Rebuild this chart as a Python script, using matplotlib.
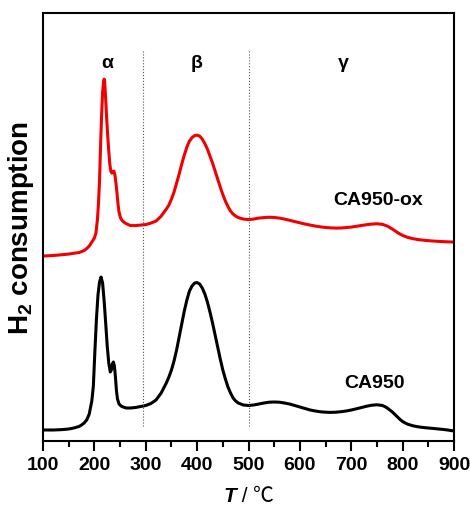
import matplotlib.pyplot as plt
from matplotlib.ticker import MultipleLocator
from matplotlib.offsetbox import TextArea, HPacker, AnchoredOffsetbox

plt.rcParams['font.family'] = ['Liberation Sans', 'Noto Sans CJK SC', 'DejaVu Sans']
plt.rcParams['font.weight'] = 'bold'
plt.rcParams['mathtext.fontset'] = 'custom'
plt.rcParams['mathtext.bf'] = 'Liberation Sans:bold'
plt.rcParams['mathtext.rm'] = 'Liberation Sans:bold'

# CA950 (black), temperature in C / signal in a.u.
t_ca950 = [100, 110, 120, 130, 140, 150, 160, 170, 175, 180, 185, 190, 195, 198, 201, 204, 207,
           210, 213, 216, 219, 222, 225, 228, 231, 233, 235, 237, 239, 241, 243, 245, 248, 252,
           256, 262, 270, 280, 290, 300, 310, 320, 330, 340, 345, 350, 355, 360, 365, 370, 375, 380,
           385, 390, 395, 400, 405, 410, 415, 420, 425, 430, 435, 440, 445, 450, 455, 460, 465,
           470, 475, 480, 490, 500, 510, 520, 530, 540, 550, 560, 570, 580, 590, 600, 610, 620,
           630, 640, 650, 660, 670, 680, 690, 700, 710, 720, 730, 740, 750, 760, 765, 770, 775,
           780, 785, 790, 795, 800, 805, 810, 820, 830, 840, 850, 860, 870, 880, 890, 900]
h2_ca950 = [11, 11, 11, 11.2, 11.5, 12, 13, 14.5, 16, 18, 21, 27, 40, 55, 90, 122, 146,
            159, 164, 158, 140, 118, 95, 78, 69, 71, 77, 79, 75, 64, 50, 42, 37, 35,
            34, 33, 33, 33.5, 34.5, 35.5, 37.5, 41, 48, 58, 64, 71, 80, 91, 104, 117, 130, 141,
            150, 155, 158, 158.5, 157, 153, 147, 139, 129, 118, 106, 94, 82, 71, 62, 54, 48,
            43, 40, 38, 36, 35.5, 36, 37, 38, 38.8, 39, 38.8, 38, 37, 35.5, 34, 32.5, 31,
            30, 29.2, 28.8, 28.6, 28.8, 29.3, 30, 31, 32.2, 33.5, 34.8, 35.8, 36.2, 35.6, 34.5, 33, 31,
            29, 26.5, 24, 21.5, 19.5, 18, 16.8, 15.2, 14.2, 13.5, 13, 12.5, 12, 11.5, 10.8, 10]

# CA950-ox (red)
t_ox = [100, 110, 120, 130, 140, 150, 160, 170, 175, 180, 185, 190, 195, 200, 203, 206, 208,
        210, 212, 214, 216, 218, 219, 220, 222, 224, 226, 228, 230, 232, 234, 236, 238, 240,
        242, 244, 246, 248, 251, 255, 260, 270, 280, 290, 300, 310, 320, 330, 340, 345, 350,
        355, 360, 365, 370, 375, 380, 385, 390, 395, 400, 405, 410, 415, 420, 425, 430, 435,
        440, 445, 450, 455, 460, 465, 470, 475, 480, 490, 500, 510, 520, 530, 540, 550, 560,
        570, 580, 590, 600, 610, 620, 630, 640, 650, 660, 670, 680, 690, 700, 710, 720, 730,
        740, 750, 760, 765, 770, 775, 780, 785, 790, 795, 800, 805, 810, 820, 830, 840, 850,
        860, 870, 880, 890, 900]
h2_ox = [185, 185.3, 185.6, 186, 186.5, 187, 187.8, 188.5, 189.5, 190.5, 192.5, 195, 199, 203, 208, 222, 238,
         260, 295, 325, 349, 360, 362, 360, 342, 322, 305, 290, 277, 270, 268, 269, 270, 266,
         258, 248, 237, 229, 223, 220, 218, 215.5, 215.5, 216, 216.5, 218, 220, 225, 232, 236, 242,
         249, 258, 267, 277, 286, 294, 300, 303.5, 305.5, 306, 305, 302, 297.5, 292, 285, 278, 270,
         262, 254, 246.5, 240, 234.5, 230, 227, 225, 223.5, 222, 221.5, 222, 223, 223.5, 223.8, 223.6, 223,
         222, 220.8, 219.5, 218.3, 217, 216, 215, 214.2, 213.6, 213.2, 213, 213.1, 213.5, 214, 214.8, 215.6, 216.4,
         217, 217.3, 216.8, 216, 215, 213.6, 212, 210.3, 208.5, 207, 205.7, 204.6, 203.7, 202.4, 201.5, 200.9, 200.4,
         200, 199.7, 199.4, 199.2, 199]

region_bounds = [295, 500]
region_names = ['α', 'β', 'γ']
region_x = [226, 399, 684]

fig = plt.figure(figsize=(4.7, 5.06), dpi=100)
ax = fig.add_axes([0.0915, 0.1265, 0.8745, 0.8455])

ax.plot(t_ca950, h2_ca950, color='black', lw=2.2, solid_joinstyle='round')
ax.plot(t_ox, h2_ox, color='#f00000', lw=2.2, solid_joinstyle='round')

for xb in region_bounds:
    ax.plot([xb, xb], [15, 390], color='#555555', lw=0.8, ls=':')
for name, xn in zip(region_names, region_x):
    ax.text(xn, 379, name, ha='center', va='center', fontsize=14, fontweight='bold')

ax.text(752, 242, 'CA950-ox', ha='center', va='center', fontsize=14, fontweight='bold')
ax.text(746, 59, 'CA950', ha='center', va='center', fontsize=14, fontweight='bold')

ax.set_xlim(100, 900)
ax.set_ylim(0, 428)
ax.xaxis.set_major_locator(MultipleLocator(100))
ax.xaxis.set_minor_locator(MultipleLocator(50))
ax.tick_params(axis='x', which='major', direction='out', length=7, width=1.5, labelsize=14, pad=4)
ax.tick_params(axis='x', which='minor', direction='out', length=4, width=1.5)
ax.set_yticks([])
for lab in ax.get_xticklabels():
    lab.set_fontweight('bold')
for sp in ax.spines.values():
    sp.set_linewidth(1.5)

# x label: bold italic T, regular "/ ℃"
lbl = HPacker(children=[
    TextArea('T', textprops=dict(fontsize=15, fontweight='bold', fontstyle='italic', family='Liberation Sans')),
    TextArea(' / ', textprops=dict(fontsize=15, fontweight='normal', family='Liberation Sans')),
    TextArea('℃', textprops=dict(fontsize=15, fontweight='normal', family='Noto Sans CJK SC')),
], align='baseline', pad=0, sep=0)
ab = AnchoredOffsetbox(loc='upper center', child=lbl, bbox_to_anchor=(0.5, -0.1),
                       bbox_transform=ax.transAxes, frameon=False, pad=0, borderpad=0)
ax.add_artist(ab)

ax.set_ylabel('H$_\\mathbf{2}$ consumption', fontsize=20, fontweight='bold', labelpad=5)

fig.savefig('out.png', dpi=100)
